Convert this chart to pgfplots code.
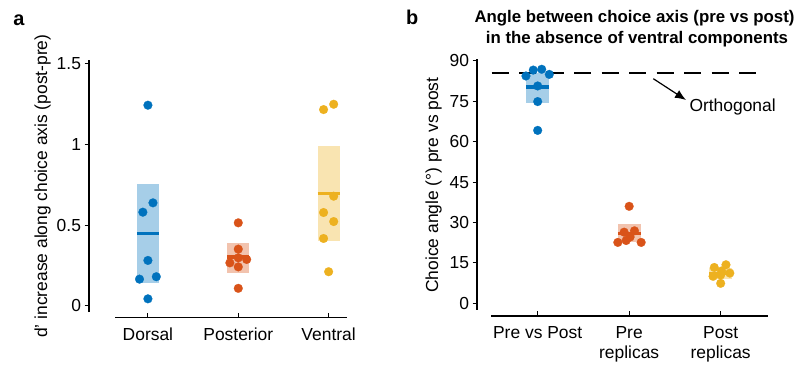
\documentclass[border=0pt]{standalone}
\usepackage{pgfplots}
\pgfplotsset{compat=1.18}
\usetikzlibrary{arrows.meta}
\usepackage{fontspec}
\setmainfont{Liberation Sans}
\definecolor{cblue}{RGB}{0,114,189}
\definecolor{corange}{RGB}{217,83,25}
\definecolor{cyellow}{RGB}{237,177,32}
\colorlet{lblue}{cblue!35!white}
\colorlet{lorange}{corange!35!white}
\colorlet{lyellow}{cyellow!35!white}
\newcommand{\lab}{\fontsize{17.5}{20}\selectfont}
\newcommand{\ttl}{\fontsize{16.9}{20}\selectfont\bfseries}
\pgfplotsset{
  common/.style={
    scale only axis,
    axis line style={draw=none},
    tick pos=left,
    xtick align=inside,
    ytick align=outside,
    major tick length=4.5bp,
    tick style={line width=1.1bp, black},
    tick label style={font=\lab},
    label style={font=\lab},
    /pgf/number format/assume math mode=true,
    xticklabel style={yshift=-6.6bp, align=center},
    clip=false,
  },
  dots/.style={only marks, mark=*, mark size=4.4bp, color=#1, mark options={solid, fill=#1, draw=#1, line width=0.2bp}},
  meanl/.style={line width=3.3bp, draw=#1, mark=none},
  boxf/.style={fill=#1, draw=none, mark=none},
}
\begin{document}
\begin{tikzpicture}
\useasboundingbox (0,0) rectangle (807bp,366bp);
% ---------------- panel a ----------------
\begin{axis}[common,
  at={(89bp,48.3bp)}, anchor=south west,
  width=257.7bp, height=257.5bp,
  xmin=-0.652, xmax=2.2, ymin=-0.074, ymax=1.522,
  xtick={0,1,2}, xticklabels={Dorsal,Posterior,Ventral},
  ytick={0,0.5,1,1.5}, yticklabels={0,0.5,1,1.5},
  ylabel={d' increase along choice axis (post-pre)},
  ylabel style={at={(axis description cs:-0.1475,0.511)}, anchor=south, inner sep=0pt},
]
\draw[line width=1.1bp] (axis cs:-0.652,-0.039) -- (axis cs:-0.652,1.522);
\draw[line width=1.1bp] (axis cs:-0.36,-0.074) -- (axis cs:2.2,-0.074);
% boxes
\addplot[boxf=lblue] coordinates {(-0.122,0.142) (0.122,0.142) (0.122,0.754) (-0.122,0.754)} -- cycle;
\addplot[boxf=lorange] coordinates {(0.878,0.204) (1.122,0.204) (1.122,0.386) (0.878,0.386)} -- cycle;
\addplot[boxf=lyellow] coordinates {(1.878,0.402) (2.122,0.402) (2.122,0.989) (1.878,0.989)} -- cycle;
% means
\addplot[meanl=cblue] coordinates {(-0.122,0.448) (0.122,0.448)};
\addplot[meanl=corange] coordinates {(0.878,0.303) (1.122,0.303)};
\addplot[meanl=cyellow] coordinates {(1.878,0.696) (2.122,0.696)};
% points
\addplot[dots=cblue] table {
x y
0 1.243
0.056 0.638
-0.056 0.580
0 0.281
-0.093 0.165
0.093 0.180
0 0.043
};
\addplot[dots=corange] table {
x y
1 0.514
1 0.351
1 0.297
0.907 0.266
1.093 0.287
1 0.241
1 0.108
};
\addplot[dots=cyellow] table {
x y
1.944 1.216
2.056 1.249
2.056 0.679
1.944 0.578
2.056 0.522
1.944 0.417
2 0.211
};
\end{axis}
% ---------------- panel b ----------------
\begin{axis}[common,
  at={(477bp,50bp)}, anchor=south west,
  width=290.7bp, height=256.7bp,
  xmin=-0.663, xmax=2.514, ymin=-4.73, ymax=90.6,
  xtick={0,1,2}, xticklabels={Pre vs Post,{Pre\\replicas},{Post\\replicas}},
  ytick={0,15,30,45,60,75,90},
  ylabel={Choice angle (\textdegree) pre vs post},
  ylabel style={at={(axis description cs:-0.1204,0.510)}, anchor=south, inner sep=0pt},
]
\draw[line width=1.1bp] (axis cs:-0.663,-2.5) -- (axis cs:-0.663,90.6);
\draw[line width=1.1bp] (axis cs:-0.51,-4.73) -- (axis cs:2.514,-4.73);
\addplot[boxf=lblue] coordinates {(-0.124,74.2) (0.124,74.2) (0.124,85.4) (-0.124,85.4)} -- cycle;
\addplot[boxf=lorange] coordinates {(0.876,22.6) (1.124,22.6) (1.124,29.5) (0.876,29.5)} -- cycle;
\addplot[boxf=lyellow] coordinates {(1.876,9.0) (2.124,9.0) (2.124,13.2) (1.876,13.2)} -- cycle;
\addplot[meanl=cblue] coordinates {(-0.124,80.3) (0.124,80.3)};
\addplot[meanl=corange] coordinates {(0.876,26.0) (1.124,26.0)};
\addplot[meanl=cyellow] coordinates {(1.876,11.1) (2.124,11.1)};
\addplot[dots=cblue] table {
x y
-0.128 84.4
-0.048 86.6
0.044 86.9
0.127 85.0
0 80.7
0 74.9
0 64.2
};
\addplot[dots=corange] table {
x y
1 36.0
0.945 26.4
1.058 26.9
0.876 22.6
0.967 23.3
1.131 22.6
1.01 24.6
};
\addplot[dots=cyellow] table {
x y
1.93 13.3
2.058 14.3
2.10 11.2
1.917 10.0
2 7.4
2 10.5
2.01 12.0
};
\addplot[black, line width=1.1bp, dash pattern=on 17.3bp off 10.2bp, mark=none] coordinates {(-0.503,85.5) (2.5,85.5)};
\end{axis}
% annotations
\draw[line width=1.2bp, -{Latex[length=11bp,width=9bp]}] (653.3bp,287.3bp) -- (686bp,266bp);
\node[anchor=base west, inner sep=0pt, font=\lab] at (689.3bp,254.3bp) {Orthogonal};
\node[anchor=base, inner sep=0pt, font=\ttl] at (634.5bp,343bp) {Angle between choice axis (pre vs post)};
\node[anchor=base, inner sep=0pt, font=\ttl] at (637bp,322bp) {in the absence of ventral components};
\node[anchor=base west, inner sep=0pt, font=\fontsize{20}{22}\selectfont\bfseries] at (13.3bp,340bp) {a};
\node[anchor=base west, inner sep=0pt, font=\fontsize{20}{22}\selectfont\bfseries] at (406bp,341bp) {b};
\end{tikzpicture}
\end{document}
